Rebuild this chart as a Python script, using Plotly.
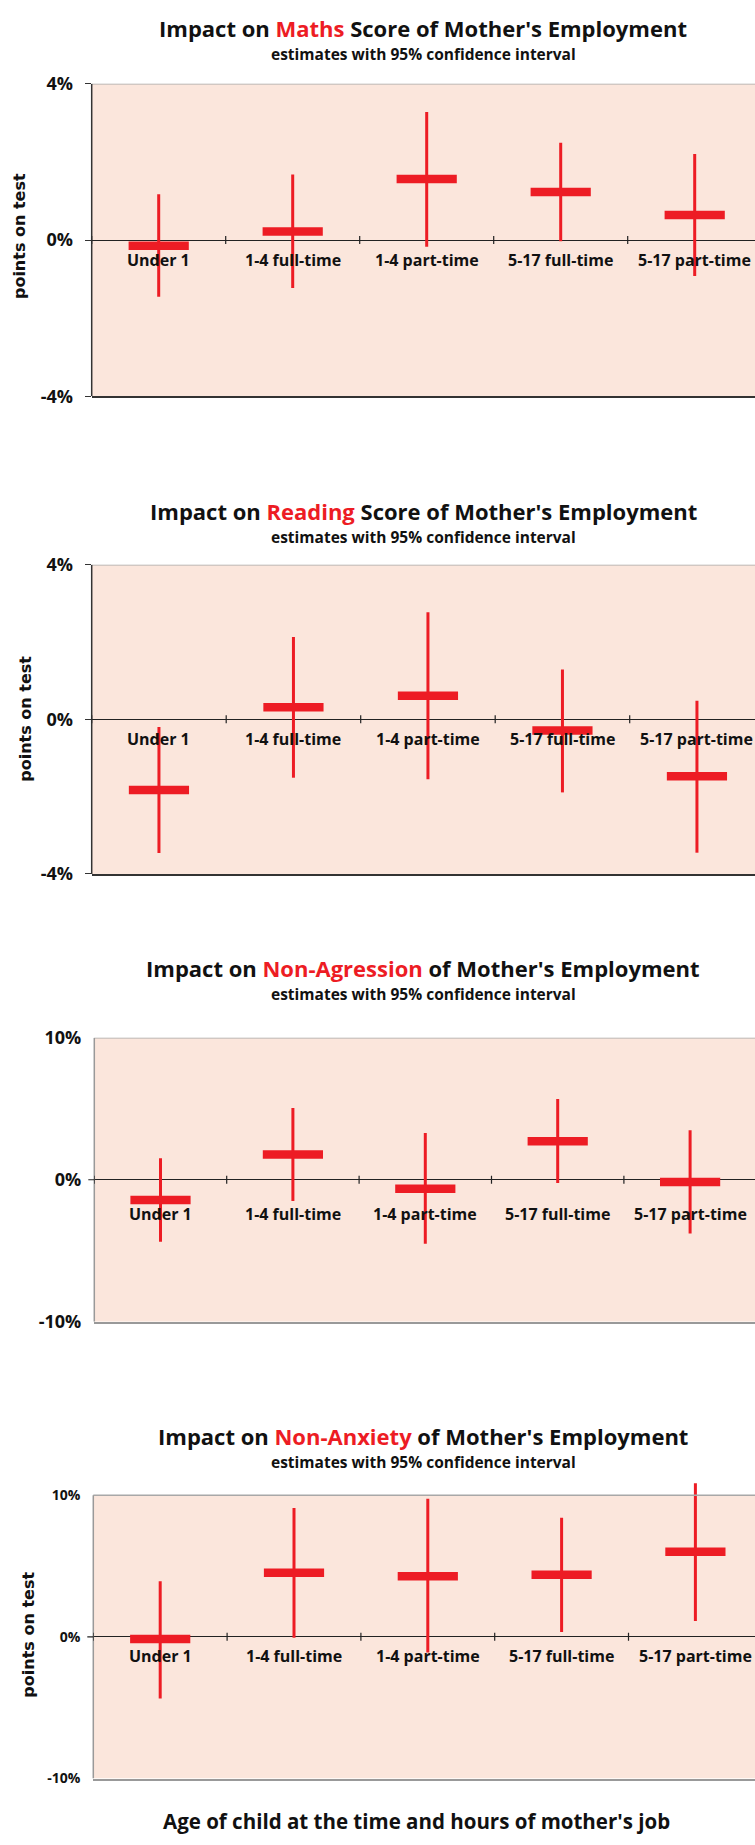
import plotly.graph_objects as go

W, H = 755, 1845
RED = "#ED1C24"
BG = "#FBE6DC"
TITLE_FONT = "Open Sans"
YTITLE_FONT = "DejaVu Sans"

categories = ["Under 1", "1-4 full-time", "1-4 part-time", "5-17 full-time", "5-17 part-time"]

# Point estimates and 95% confidence bounds (percent)
maths_est = [-0.15, 0.22, 1.56, 1.23, 0.64]
maths_lo = [-1.45, -1.23, -0.17, -0.03, -0.92]
maths_hi = [1.17, 1.68, 3.28, 2.49, 2.20]

reading_est = [-1.83, 0.31, 0.61, -0.29, -1.47]
reading_lo = [-3.46, -1.51, -1.55, -1.89, -3.45]
reading_hi = [-0.20, 2.13, 2.77, 1.29, 0.48]

aggr_est = [-1.43, 1.78, -0.63, 2.71, -0.16]
aggr_lo = [-4.36, -1.50, -4.50, -0.23, -3.78]
aggr_hi = [1.52, 5.06, 3.29, 5.68, 3.48]

anx_est = [-0.16, 4.52, 4.28, 4.38, 6.00]
anx_lo = [-4.35, -0.07, -1.10, 0.35, 1.12]
anx_hi = [3.93, 9.10, 9.74, 8.40, 10.84]

maths_ticks = [4, 0, -4]
maths_ticktext = ["4%", "0%", "-4%"]
reading_ticks = [4, 0, -4]
reading_ticktext = ["4%", "0%", "-4%"]
aggr_ticks = [10, 0, -10]
aggr_ticktext = ["10%", "0%", "-10%"]
anx_ticks = [10, 0, -10]
anx_ticktext = ["10%", "0%", "-10%"]

subtitle = "estimates with 95% confidence interval"
y_title = "points on test"
x_title = "Age of child at the time and hours of mother's job"

# Pixel geometry of each panel: shaded frame top/bottom, left edge, category step.
# "view_max" lets whiskers run past the top of the shaded frame.
panels = [
    dict(word="Maths", tail=" Score of Mother's Employment",
         est=maths_est, lo=maths_lo, hi=maths_hi,
         tickvals=maths_ticks, ticktext=maths_ticktext, view_max=4,
         top=71.7, bottom=388.3, left=91.7, step=134.0,
         head_mid=28.4, ytitle=(19, 226), label_off=19.5,
         tick_size=18, axis_col="#333333", yticks=True),
    dict(word="Reading", tail=" Score of Mother's Employment",
         est=reading_est, lo=reading_lo, hi=reading_hi,
         tickvals=reading_ticks, ticktext=reading_ticktext, view_max=4,
         top=559.0, bottom=872.3, left=91.7, step=134.5,
         head_mid=517.5, ytitle=(26, 715), label_off=19.5,
         tick_size=18, axis_col="#333333", yticks=True),
    dict(word="Non-Agression", tail=" of Mother's Employment",
         est=aggr_est, lo=aggr_lo, hi=aggr_hi,
         tickvals=aggr_ticks, ticktext=aggr_ticktext, view_max=10,
         top=1038.3, bottom=1326.0, left=94.3, step=132.4,
         head_mid=980.9, ytitle=None, label_off=34.4,
         tick_size=18, axis_col="#999999", yticks=False),
    dict(word="Non-Anxiety", tail=" of Mother's Employment",
         est=anx_est, lo=anx_lo, hi=anx_hi,
         tickvals=anx_ticks, ticktext=anx_ticktext, view_max=11.3,
         top=1501.7, bottom=1788.8, left=93.3, step=133.8,
         head_mid=1454.7, ytitle=(29, 1643), label_off=19.0,
         tick_size=14, axis_col="#999999", yticks=False),
]
HEAD_GAP = 25.8  # distance between title and subtitle centres, px

fig = go.Figure()
annotations = []
shapes = []
layout_axes = {}

xs = list(range(1, len(categories) + 1))

for i, p in enumerate(panels, start=1):
    xa = f"x{i}" if i > 1 else "x"
    ya = f"y{i}" if i > 1 else "y"
    xkey = f"xaxis{i}" if i > 1 else "xaxis"
    ykey = f"yaxis{i}" if i > 1 else "yaxis"
    R = p["tickvals"][0]
    px_per_unit = (p["bottom"] - p["top"]) / (2 * R)
    view_top = p["top"] - (p["view_max"] - R) * px_per_unit
    x0p = p["left"] / W

    plus = [h - e for h, e in zip(p["hi"], p["est"])]
    minus = [e - l for e, l in zip(p["est"], p["lo"])]

    fig.add_trace(go.Scatter(
        x=xs, y=p["est"], xaxis=xa, yaxis=ya, mode="markers",
        marker=dict(symbol="line-ew", size=43, color=RED,
                    line=dict(color=RED, width=8.5)),
        error_y=dict(type="data", array=plus, arrayminus=minus,
                     color=RED, thickness=3, width=0, symmetric=False),
        cliponaxis=False, showlegend=False, hoverinfo="skip",
    ))

    x_end = 0.5 + (W - p["left"]) / p["step"]
    layout_axes[xkey] = dict(
        domain=[x0p, 1.0], range=[0.5, x_end], anchor=ya,
        showline=True, linecolor=p["axis_col"], linewidth=1.5,
        showgrid=False, zeroline=False, showticklabels=False, ticks="",
        fixedrange=True,
    )
    layout_axes[ykey] = dict(
        domain=[1 - p["bottom"] / H, 1 - view_top / H], range=[-R, p["view_max"]],
        anchor=xa, showline=False,
        showgrid=False, zeroline=True, zerolinecolor="#222222", zerolinewidth=1.2,
        tickvals=p["tickvals"], ticktext=p["ticktext"],
        ticks="outside" if p["yticks"] else "", ticklen=6, tickcolor="#333333",
        tickwidth=1.2,
        tickfont=dict(family=TITLE_FONT, size=p["tick_size"], color="#111111",
                      weight="bold"),
        ticklabelstandoff=8 if p["yticks"] else 12,
        fixedrange=True,
    )

    # shaded plotting area
    shapes.append(dict(type="rect", xref="paper", yref=ya,
                       x0=x0p, x1=1.0, y0=-R, y1=R,
                       fillcolor=BG, line=dict(width=0), layer="below"))
    # top border and value axis line
    shapes.append(dict(type="line", xref="paper", yref=ya,
                       x0=x0p, x1=1.0, y0=R, y1=R,
                       line=dict(color="#A8A8A8", width=1.5), layer="above"))
    shapes.append(dict(type="line", xref="paper", yref=ya,
                       x0=x0p, x1=x0p, y0=-R, y1=R,
                       line=dict(color=p["axis_col"], width=1.5), layer="above"))
    # small tick at 0 on the value axis when other ticks are absent
    if not p["yticks"]:
        shapes.append(dict(type="line", xref="paper", yref=ya,
                           x0=(p["left"] - 6) / W, x1=x0p, y0=0, y1=0,
                           line=dict(color="#222222", width=1.2), layer="above"))
    # category boundary ticks crossing the zero line
    for b in [k + 0.5 for k in range(len(categories))]:
        shapes.append(dict(type="line", xref=xa, yref=ya, x0=b, x1=b,
                           ysizemode="pixel", yanchor=0, y0=-4, y1=4,
                           line=dict(color="#222222", width=1.2), layer="above"))

    # category labels under the zero line
    for x, c in zip(xs, categories):
        annotations.append(dict(
            x=x, y=0, xref=xa, yref=ya, text=c, showarrow=False,
            yanchor="middle", yshift=-p["label_off"],
            font=dict(family=TITLE_FONT, size=16, color="#111111", weight="bold"),
        ))

    # panel titles
    title_y = p["head_mid"] - HEAD_GAP / 2
    sub_y = p["head_mid"] + HEAD_GAP / 2
    annotations.append(dict(
        x=423 / W, y=1 - title_y / H, xref="paper", yref="paper",
        text=f"Impact on <span style='color:{RED}'>{p['word']}</span>{p['tail']}",
        showarrow=False, xanchor="center", yanchor="middle",
        font=dict(family=TITLE_FONT, size=22, color="#111111", weight="bold"),
    ))
    annotations.append(dict(
        x=423 / W, y=1 - sub_y / H, xref="paper", yref="paper",
        text=subtitle, showarrow=False, xanchor="center", yanchor="middle",
        font=dict(family=TITLE_FONT, size=15.5, color="#111111", weight="bold"),
    ))
    if p["ytitle"] is not None:
        tx, ty = p["ytitle"]
        annotations.append(dict(
            x=tx / W, y=1 - ty / H, xref="paper", yref="paper", text=y_title,
            textangle=-90, showarrow=False, xanchor="center", yanchor="middle",
            font=dict(family=YTITLE_FONT, size=16, color="#111111", weight="bold"),
        ))

annotations.append(dict(
    x=416 / W, y=1 - 1832 / H, xref="paper", yref="paper", text=x_title,
    showarrow=False, xanchor="center", yanchor="middle",
    font=dict(family=TITLE_FONT, size=20.5, color="#111111", weight="bold"),
))

fig.update_layout(
    width=W, height=H, margin=dict(l=0, r=0, t=0, b=0),
    paper_bgcolor="white", plot_bgcolor="rgba(0,0,0,0)",
    annotations=annotations, shapes=shapes, showlegend=False,
    **layout_axes,
)

fig.write_html("out.html", config={"displayModeBar": False})
